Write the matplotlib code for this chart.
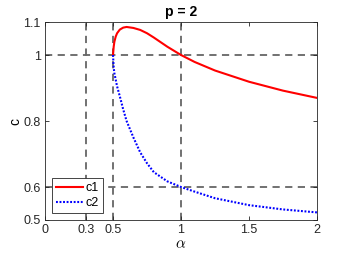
import matplotlib
matplotlib.use("Agg")
import matplotlib.pyplot as plt

plt.rcParams['font.family'] = ['Liberation Sans', 'DejaVu Sans']
plt.rcParams['mathtext.fontset'] = 'cm'

alpha = [0.5, 0.505, 0.51, 0.52, 0.53, 0.55, 0.575, 0.6, 0.65, 0.7, 0.75, 0.8,
         0.9, 1.0, 1.1, 1.25, 1.5, 1.75, 2.0]
c1 = [1.0, 1.025, 1.04, 1.056, 1.066, 1.077, 1.083, 1.085, 1.082, 1.076, 1.066,
      1.053, 1.025, 1.0, 0.979, 0.953, 0.919, 0.892, 0.870]
c2 = [1.0, 0.962, 0.945, 0.925, 0.905, 0.875, 0.835, 0.80, 0.75, 0.705, 0.672,
      0.645, 0.617, 0.600, 0.586, 0.566, 0.545, 0.532, 0.523]

vlines = [0.3, 0.5, 1.0]
hlines = [0.6, 1.0]
xticks = [0, 0.3, 0.5, 1, 1.5, 2]
xticklabels = ['0', '0.3', '0.5', '1', '1.5', '2']
yticks = [0.5, 0.6, 0.8, 1, 1.1]
yticklabels = ['0.5', '0.6', '0.8', '1', '1.1']

fig = plt.figure(figsize=(3.5, 2.63), dpi=100)
ax = fig.add_axes([0.1286, 0.1635, 0.7771, 0.7528])

grey = (0.4, 0.4, 0.4)
for v in vlines:
    ax.axvline(v, color=grey, ls=(0, (4, 3)), lw=1.3, zorder=1)
for h in hlines:
    ax.axhline(h, color=grey, ls=(0, (4, 3)), lw=1.3, zorder=1)

ax.plot(alpha, c1, color='red', lw=1.5, label='c1', zorder=3)
ax.plot(alpha, c2, color='blue', lw=1.5, ls=(0, (0.9, 0.8)), label='c2', zorder=3)

ax.set_xlim(0, 2)
ax.set_ylim(0.5, 1.1)
ax.set_xticks(xticks)
ax.set_xticklabels(xticklabels)
ax.set_yticks(yticks)
ax.set_yticklabels(yticklabels)
ax.tick_params(direction='in', length=3, width=0.6, labelsize=9,
               colors=(0.15, 0.15, 0.15), top=True, right=True, pad=3)
for s in ax.spines.values():
    s.set_color((0.15, 0.15, 0.15))
    s.set_linewidth(0.6)

ax.set_title('p = 2', fontsize=10, fontweight='bold', pad=4)
ax.set_xlabel(r'$\alpha$', fontsize=11, labelpad=1)
ax.set_ylabel('c', fontsize=10, labelpad=1)

leg = ax.legend(loc='lower left', fontsize=9, fancybox=False, framealpha=1,
                edgecolor=(0.15, 0.15, 0.15), handlelength=2.2,
                handletextpad=0.2, borderpad=0.3, labelspacing=0.25,
                borderaxespad=0.55)
leg.get_frame().set_linewidth(0.6)

fig.savefig('out.png', dpi=100)
